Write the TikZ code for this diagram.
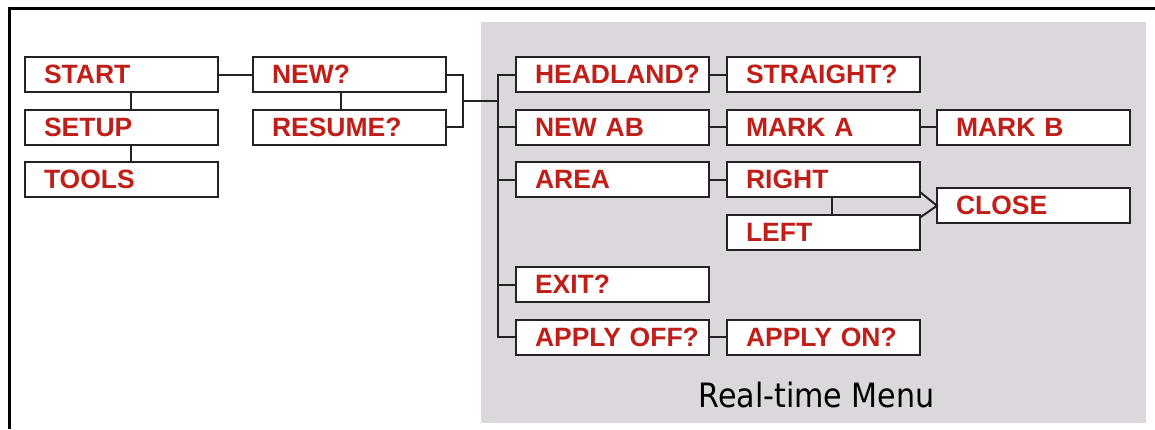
\documentclass[tikz,border=0pt]{standalone}
\usepackage{fontspec}
\setmainfont{Liberation Sans}
\newfontfamily\captionfont{DejaVu Sans Condensed}
\usepackage{tikz}
\usetikzlibrary{positioning, calc}
\usepackage{xcolor}
\definecolor{MenuRed}{RGB}{192,30,24}
\definecolor{PanelGray}{RGB}{219,215,221}
\definecolor{LineGray}{RGB}{35,35,35}
\hfuzz=30pt

\begin{document}
\begin{tikzpicture}[
          x=1pt, y=-1pt,
          menu/.style={rectangle, draw=LineGray, fill=white, line width=2pt, outer sep=0pt, text width=155pt, inner xsep=19pt,
            minimum height=35pt, text height=18pt, text depth=0pt, align=left, text=MenuRed,
            font=\fontsize{26.5}{30}\selectfont\bfseries},
          link/.style={LineGray, line width=2pt}
        ]
          \useasboundingbox (0,0) rectangle (1155,429);
          % frame and real-time panel
          \draw [line width=3pt] (9,429) -- (9,8) -- (1155,8);
          \fill [PanelGray] (481,22) rectangle (1146,423);

          % setup menu
          \node (start) [menu] at (121.5,74.5) {START};
          \node (setup) [menu, below=17.5pt of start] {SETUP};
          \node (tools) [menu, below=17.5pt of setup] {TOOLS};
          \node (new) [menu, right=35pt of start] {NEW?};
          \node (resume) [menu, below=17.5pt of new] {RESUME?};

          % real-time menu
          \node (headland) [menu, right=70pt of new] {HEADLAND?};
          \node (newab) [menu, below=17.5pt of headland] {NEW~AB};
          \node (area) [menu, below=17.5pt of newab] {AREA};
          \node (exit) [menu, below=70pt of area] {EXIT?};
          \node (applyoff) [menu, below=17.5pt of exit] {APPLY~OFF?};
          \node (straight) [menu, right=18pt of headland] {STRAIGHT?};
          \node (marka) [menu, right=18pt of newab] {MARK~A};
          \node (right) [menu, right=18pt of area] {RIGHT};
          \node (left) [menu, below=17.5pt of right] {LEFT};
          \node (applyon) [menu, right=18pt of applyoff] {APPLY~ON?};
          \node (markb) [menu, right=17pt of marka] {MARK~B};
          \coordinate (rl) at ($(right.east)!0.5!(left.east)$);
          \node (close) [menu, right=17pt of rl] {CLOSE};
          \node (title) [anchor=base west, font=\captionfont\fontsize{33.5}{38}\selectfont] at (695,407) {Real-time Menu};

          \coordinate (fork) at (463,101);
          \coordinate (trunk) at (498,101);

          \draw [link] (start) -- (new);
          \draw [link] ([xshift=9.5pt]start.south) -- ([xshift=9.5pt]setup.north);
          \draw [link] ([xshift=9.5pt]setup.south) -- ([xshift=9.5pt]tools.north);
          \draw [link] ([xshift=-8.5pt]new.south) -- ([xshift=-8.5pt]resume.north);
          \draw [link] (new.east) -| (fork) |- (resume.east);
          \draw [link] (fork) -- (trunk);
          \draw [link] (headland.west) -- ++(-18,0) |- (applyoff.west);
          \foreach \item in {newab, area, exit}
            \draw [link] (\item.west) -- ++(-18,0);
          \draw [link] (headland) -- (straight);
          \draw [link] (newab) -- (marka);
          \draw [link] (marka) -- (markb);
          \draw [link] (area) -- (right);
          \draw [link] (applyoff) -- (applyon);
          \draw [link] ([xshift=8.5pt]right.south) -- ([xshift=8.5pt]left.north);
          \draw [link] ([yshift=5pt]right.south east) -- (close.west) -- ([yshift=-3pt]left.north east);
        \end{tikzpicture}
\end{document}
